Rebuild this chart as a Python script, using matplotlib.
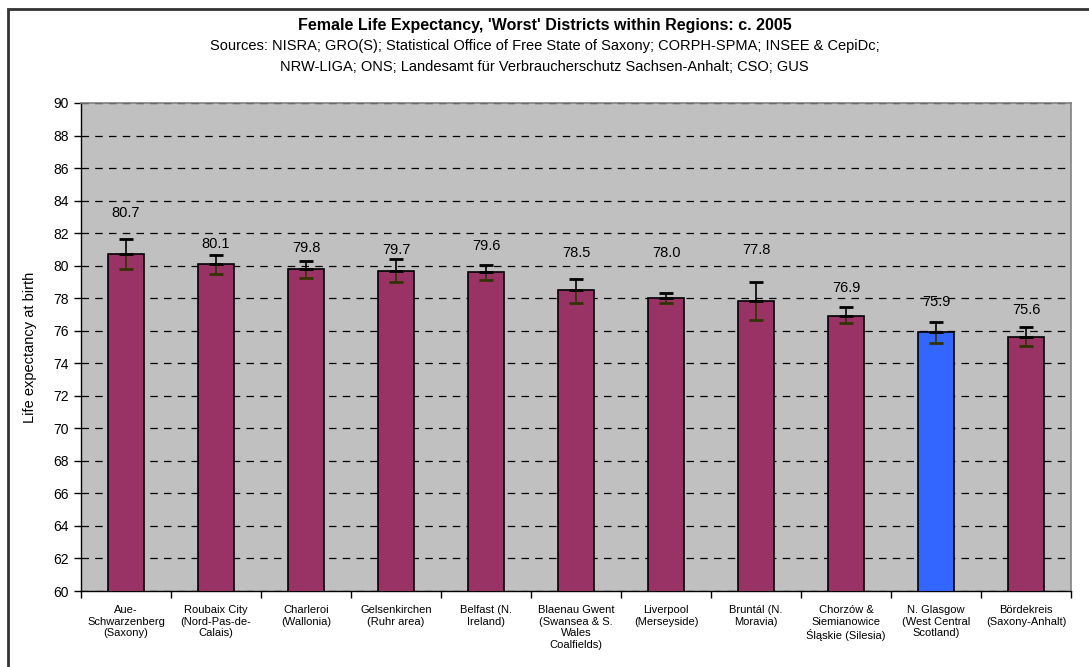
import matplotlib.pyplot as plt
from matplotlib.patches import Rectangle
import numpy as np

plt.rcParams['font.family'] = ['Liberation Sans', 'DejaVu Sans']

# === DATOS ===
districts = [
    "Aue-\nSchwarzenberg\n(Saxony)",
    "Roubaix City\n(Nord-Pas-de-\nCalais)",
    "Charleroi\n(Wallonia)",
    "Gelsenkirchen\n(Ruhr area)",
    "Belfast (N.\nIreland)",
    "Blaenau Gwent\n(Swansea & S.\nWales\nCoalfields)",
    "Liverpool\n(Merseyside)",
    "Bruntál (N.\nMoravia)",
    "Chorzów &\nSiemianowice\nŚląskie (Silesia)",
    "N. Glasgow\n(West Central\nScotland)",
    "Bördekreis\n(Saxony-Anhalt)",
]
life_exp = [80.7, 80.1, 79.8, 79.7, 79.6, 78.5, 78.0, 77.8, 76.9, 75.9, 75.6]
err_low = [0.90, 0.59, 0.56, 0.72, 0.50, 0.78, 0.29, 1.12, 0.43, 0.66, 0.56]
err_high = [0.95, 0.56, 0.49, 0.69, 0.44, 0.70, 0.34, 1.17, 0.58, 0.63, 0.63]
label_offset = [2.55, 1.25, 1.27, 1.27, 1.6, 2.26, 2.76, 3.17, 1.7, 1.88, 1.67]
highlight = "N. Glasgow\n(West Central\nScotland)"

# === FIGURA ===
fig = plt.figure(figsize=(10.89, 6.67), dpi=100)
ax = fig.add_axes([0.0744, 0.1139, 0.9091, 0.7317])

# marco exterior del gráfico
fig.patches.append(Rectangle((0.0078, -0.05), 1.1, 1.05 - 0.0135, transform=fig.transFigure,
                             fill=False, edgecolor='#333333', linewidth=2, zorder=0))

x = np.arange(len(districts))
colors = ['#3366FF' if d == highlight else '#993366' for d in districts]

ax.set_facecolor('#C0C0C0')
ax.bar(x, life_exp, width=0.4, color=colors, edgecolor='black', linewidth=1.2, zorder=3)

# barras de error (parte inferior oscura, superior negra)
ax.errorbar(x, life_exp, yerr=[err_low, [0] * len(x)], fmt='none', ecolor='#333300',
            elinewidth=1.2, capsize=5, capthick=2, zorder=4)
ax.errorbar(x, life_exp, yerr=[[0] * len(x), err_high], fmt='none', ecolor='black',
            elinewidth=1.2, capsize=5, capthick=2, zorder=4)

for xi, v, off in zip(x, life_exp, label_offset):
    ax.text(xi, v + off, f"{v:.1f}", ha='center', va='center', fontsize=10.5, zorder=5)

ax.set_ylim(60, 90)
ax.set_xlim(-0.5, len(x) - 0.5)
ax.set_yticks(np.arange(60, 91, 2))
ax.tick_params(axis='y', labelsize=10, direction='out', length=5, width=1)

ax.set_xticks(x)
ax.set_xticklabels(districts, fontsize=8, linespacing=1.2)
ax.tick_params(axis='x', length=0, pad=10)
ax.set_xticks(np.arange(-0.5, len(x) + 0.5, 1), minor=True)
ax.tick_params(axis='x', which='minor', direction='out', length=5, width=1)

ax.yaxis.grid(True, color='black', linestyle=(0, (6, 5)), linewidth=0.9)
ax.set_axisbelow(True)

for side in ['top', 'right']:
    ax.spines[side].set_color('#808080')
    ax.spines[side].set_linewidth(1.2)
for side in ['left', 'bottom']:
    ax.spines[side].set_color('black')
    ax.spines[side].set_linewidth(1)

ax.set_ylabel("Life expectancy at birth", fontsize=10.5)
ax.yaxis.set_label_coords(-0.044, 0.5)

fig.text(0.5, 0.962, "Female Life Expectancy, 'Worst' Districts within Regions: c. 2005",
         ha='center', va='center', fontsize=11.5, fontweight='bold')
fig.text(0.5, 0.931, "Sources: NISRA; GRO(S); Statistical Office of Free State of Saxony; CORPH-SPMA; INSEE & CepiDc;",
         ha='center', va='center', fontsize=10.5)
fig.text(0.5, 0.899, "NRW-LIGA; ONS; Landesamt für Verbraucherschutz Sachsen-Anhalt; CSO; GUS",
         ha='center', va='center', fontsize=10.5)

plt.savefig("out.png", dpi=100)
plt.close()
